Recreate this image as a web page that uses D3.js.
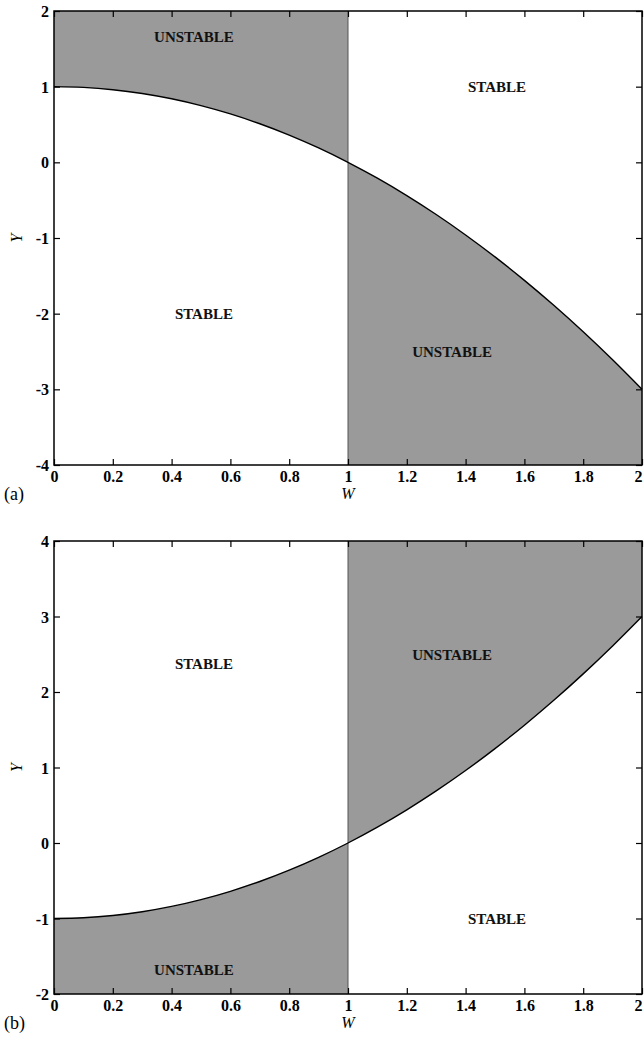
<!DOCTYPE html>
<html><head><meta charset="utf-8">
<script src="https://cdn.jsdelivr.net/npm/d3@7"></script>
<style>
html,body{margin:0;padding:0;background:#fff;}
svg{display:block;font-family:"Liberation Serif","Times New Roman",serif;}
</style></head>
<body>
<svg id="chart" width="644" height="1042"></svg>
<script>
// ---- data ----
const W = [0,0.1,0.2,0.3,0.4,0.5,0.6,0.7,0.8,0.9,1,1.1,1.2,1.3,1.4,1.5,1.6,1.7,1.8,1.9,2];
const curveA = [1,0.99,0.96,0.91,0.84,0.75,0.64,0.51,0.36,0.19,0,-0.21,-0.44,-0.69,-0.96,-1.25,-1.56,-1.89,-2.24,-2.61,-3];
const curveB = [-1,-0.99,-0.96,-0.91,-0.84,-0.75,-0.64,-0.51,-0.36,-0.19,0,0.21,0.44,0.69,0.96,1.25,1.56,1.89,2.24,2.61,3];
const xTicks = [0,0.2,0.4,0.6,0.8,1,1.2,1.4,1.6,1.8,2];
const xTickLabels = ["0","0.2","0.4","0.6","0.8","1","1.2","1.4","1.6","1.8","2"];
const yDomainA = [-4,2];
const yDomainB = [-2,4];
const yTicksA = [-4,-3,-2,-1,0,1,2];
const yTicksB = [-2,-1,0,1,2,3,4];
// shaded (unstable) regions: W range and the far bound of Y
const shadeA = [{w0:0,w1:1,bound:2},{w0:1,w1:2,bound:-4}];
const shadeB = [{w0:0,w1:1,bound:-2},{w0:1,w1:2,bound:4}];
const labelsA = [{t:"UNSTABLE",w:0.476,y:1.66},{t:"STABLE",w:1.507,y:1.0},{t:"STABLE",w:0.51,y:-2.0},{t:"UNSTABLE",w:1.354,y:-2.5}];
const labelsB = [{t:"STABLE",w:0.51,y:2.37},{t:"UNSTABLE",w:1.354,y:2.5},{t:"STABLE",w:1.507,y:-1.0},{t:"UNSTABLE",w:0.476,y:-1.68}];

const svg = d3.select("#chart");

function panel(opts){
  const {top,bottom,left,right,yDomain,yTicks,curve,shade,labels,tag} = opts;
  const x = d3.scaleLinear().domain([0,2]).range([left,right]);
  const y = d3.scaleLinear().domain(yDomain).range([bottom,top]);
  const g = svg.append("g");
  const pts = W.map((w,i)=>({w, v:curve[i]}));

  shade.forEach(s=>{
    const seg = pts.filter(p=>p.w>=s.w0-1e-9 && p.w<=s.w1+1e-9);
    const area = d3.area().x(p=>x(p.w)).y0(y(s.bound)).y1(p=>y(p.v)).curve(d3.curveMonotoneX);
    g.append("path").attr("d",area(seg)).attr("fill","#9a9a9a").attr("stroke","none");
  });
  // boundary line at W=1
  g.append("line").attr("x1",x(1)).attr("x2",x(1)).attr("y1",y(yDomain[0])).attr("y2",y(yDomain[1]))
    .attr("stroke","#555").attr("stroke-width",1);

  const line = d3.line().x(p=>x(p.w)).y(p=>y(p.v)).curve(d3.curveMonotoneX);
  g.append("path").attr("d",line(pts)).attr("fill","none").attr("stroke","#000").attr("stroke-width",1.4);

  labels.forEach(l=>{
    g.append("text").attr("x",x(l.w)).attr("y",y(l.y)).attr("dy","0.35em")
      .attr("text-anchor","middle").attr("font-weight","bold").attr("font-size",15)
      .attr("fill","#111").text(l.t);
  });

  // axes with inward ticks
  const fmt = d => xTickLabels[xTicks.indexOf(d)];
  const axB = g.append("g").attr("transform",`translate(0,${bottom})`)
    .call(d3.axisBottom(x).tickValues(xTicks).tickFormat(fmt).tickSizeInner(-6).tickSizeOuter(0).tickPadding(5));
  const axT = g.append("g").attr("transform",`translate(0,${top})`)
    .call(d3.axisTop(x).tickValues(xTicks).tickFormat("").tickSizeInner(-6).tickSizeOuter(0));
  const axL = g.append("g").attr("transform",`translate(${left},0)`)
    .call(d3.axisLeft(y).tickValues(yTicks).tickFormat(d=>String(d)).tickSizeInner(-6).tickSizeOuter(0).tickPadding(5));
  const axR = g.append("g").attr("transform",`translate(${right},0)`)
    .call(d3.axisRight(y).tickValues(yTicks).tickFormat("").tickSizeInner(-6).tickSizeOuter(0));
  [axB,axT,axL,axR].forEach(a=>{
    a.select(".domain").remove();
    a.selectAll(".tick line").attr("stroke","#000").attr("stroke-width",1.2);
    a.selectAll("text").attr("font-family","'Liberation Serif','Times New Roman',serif")
      .attr("font-weight","bold").attr("font-size",16).attr("fill","#000");
  });
  axB.selectAll(".tick text").attr("dy","0.75em");
  axB.selectAll(".tick").filter(d=>d===2).select("text").attr("text-anchor","end").attr("dx",0);
  axL.selectAll(".tick text").attr("dy","0.35em");
  // frame
  g.append("rect").attr("x",left).attr("y",top).attr("width",right-left).attr("height",bottom-top)
    .attr("fill","none").attr("stroke","#000").attr("stroke-width",1.5);
  // axis titles
  g.append("text").attr("x",left+ (right-left)/2).attr("y",bottom+34).attr("text-anchor","middle")
    .attr("font-style","italic").attr("font-size",16).text("W");
  g.append("text").attr("transform",`translate(22,${(top+bottom)/2}) rotate(-90)`).attr("text-anchor","middle")
    .attr("font-style","italic").attr("font-size",16).text("Y");
  g.append("text").attr("x",4).attr("y",bottom+35).attr("font-size",18).text(tag);
}

panel({top:11,bottom:465,left:54,right:642,yDomain:yDomainA,yTicks:yTicksA,curve:curveA,shade:shadeA,labels:labelsA,tag:"(a)"});
panel({top:541,bottom:994,left:54,right:642,yDomain:yDomainB,yTicks:yTicksB,curve:curveB,shade:shadeB,labels:labelsB,tag:"(b)"});
</script>
</body></html>
